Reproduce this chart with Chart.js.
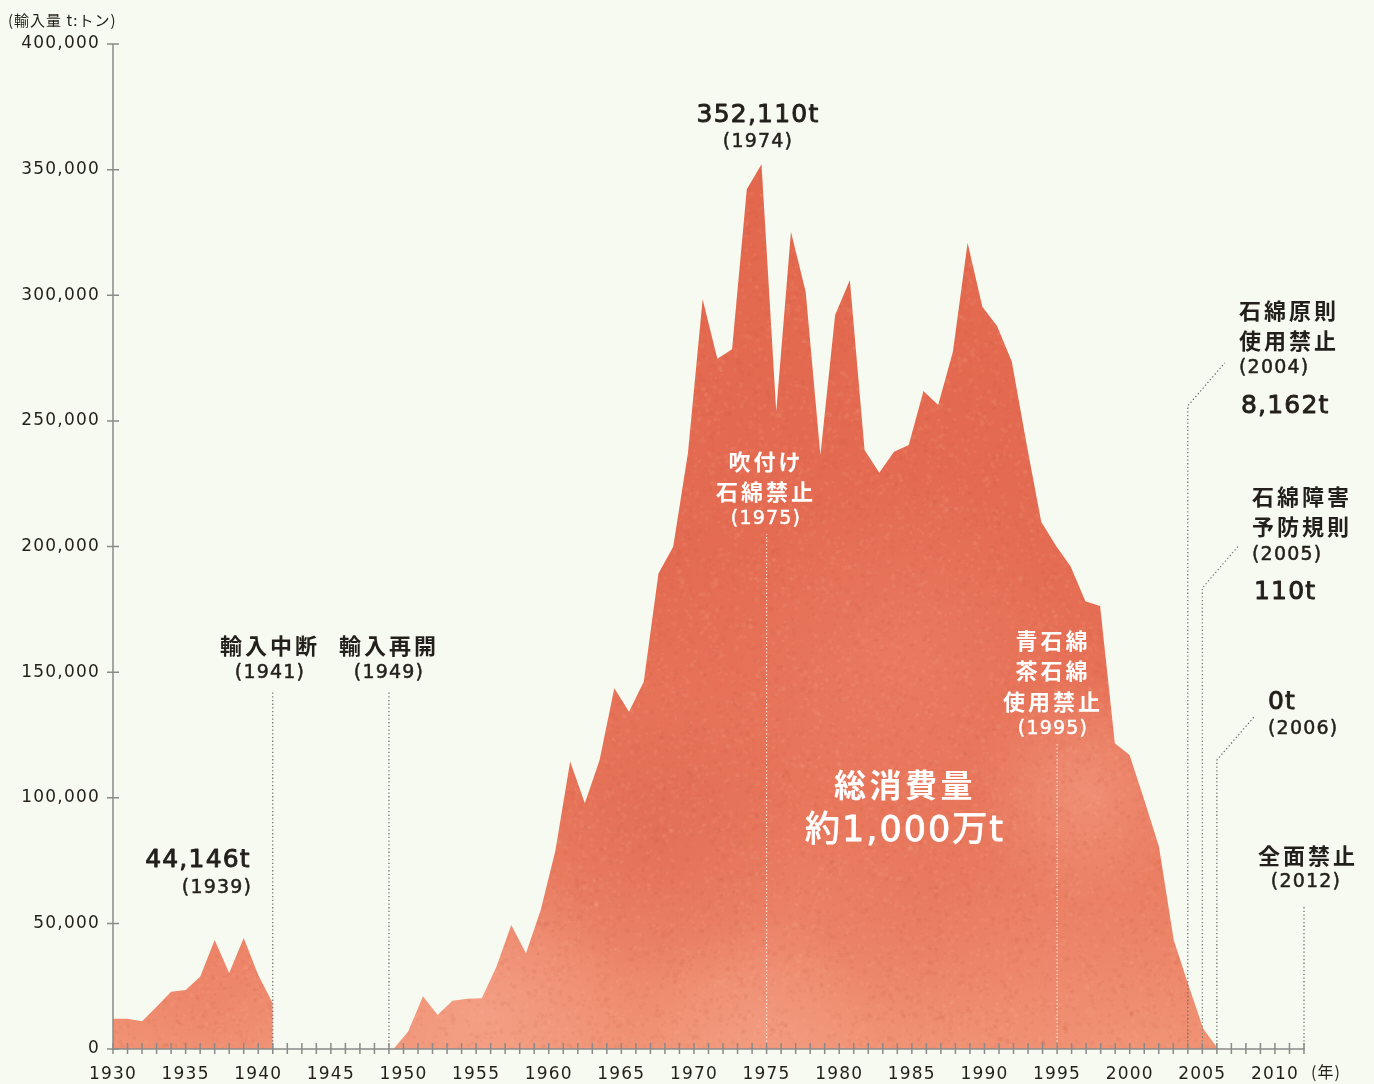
<!DOCTYPE html>
<html lang="ja">
<head>
<meta charset="utf-8">
<title>石綿の輸入量の推移</title>
<script src="https://cdn.jsdelivr.net/npm/chart.js@4.4.1/dist/chart.umd.min.js"></script>
<style>
  html, body { margin: 0; padding: 0; background: #f7faf0; }
  #importChart { display: block; }
</style>
</head>
<body>
<canvas id="importChart" width="1374" height="1084"></canvas>
<script>
// 戦前の輸入量（1941年に輸入中断）
const prewarYears = [1930, 1931, 1932, 1933, 1934, 1935, 1936, 1937, 1938, 1939, 1940, 1941];
const prewarTons = [12000, 12000, 11000, 16800, 22800, 23500, 28800, 43400, 30200, 44146, 29500, 18200];

// 戦後の輸入量（1949年に輸入再開）
const postwarYears = [
  1949, 1950, 1951, 1952, 1953, 1954, 1955, 1956, 1957, 1958,
  1959, 1960, 1961, 1962, 1963, 1964, 1965, 1966, 1967, 1968,
  1969, 1970, 1971, 1972, 1973, 1974, 1975, 1976, 1977, 1978,
  1979, 1980, 1981, 1982, 1983, 1984, 1985, 1986, 1987, 1988,
  1989, 1990, 1991, 1992, 1993, 1994, 1995, 1996, 1997, 1998,
  1999, 2000, 2001, 2002, 2003, 2004, 2005, 2006
];
const postwarTons = [
  0, 7000, 21000, 13500, 19200, 20000, 20200, 32800, 49400, 38100,
  55300, 79000, 114400, 97800, 115000, 143600, 134200, 146200, 189300, 199900,
  237100, 298400, 274700, 278500, 342200, 352110, 253700, 325300, 301400, 236400,
  292100, 306100, 238400, 229400, 237700, 240400, 261900, 256300, 277500, 320900,
  295400, 287800, 273600, 241000, 209900, 200300, 192000, 178200, 176300, 121700,
  117000, 99100, 80500, 43400, 25500, 8162, 110, 0
];

const yTickValues = [0, 50000, 100000, 150000, 200000, 250000, 300000, 350000, 400000];
const xLabelYears = [1930, 1935, 1940, 1945, 1950, 1955, 1960, 1965, 1970, 1975, 1980, 1985, 1990, 1995, 2000, 2005, 2010];

const ink = "#231f1c";
const axisGray = "#8a8a8a";
const numFont = "'DejaVu Sans', 'Noto Sans CJK JP', sans-serif";
const jpFont = "'Noto Sans CJK JP', 'DejaVu Sans', sans-serif";

// 水彩風の塗り
function makeWash(w, h) {
  const c = document.createElement("canvas");
  c.width = w;
  c.height = h;
  const g = c.getContext("2d");
  const lin = g.createLinearGradient(0, 150, 0, 1049);
  lin.addColorStop(0, "#e2674d");
  lin.addColorStop(0.45, "#e46c52");
  lin.addColorStop(0.72, "#e8765b");
  lin.addColorStop(0.88, "#ec8468");
  lin.addColorStop(1, "#f09375");
  g.fillStyle = lin;
  g.fillRect(0, 0, w, h);

  const blots = [
    [480, 1010, 150, "rgba(247,172,148,0.55)"],
    [1085, 790, 115, "rgba(246,168,143,0.5)"],
    [760, 1035, 120, "rgba(247,172,148,0.35)"],
    [900, 650, 170, "rgba(240,142,116,0.3)"],
    [660, 840, 150, "rgba(210,90,66,0.3)"],
    [930, 900, 140, "rgba(222,104,80,0.25)"],
    [610, 560, 120, "rgba(214,95,72,0.2)"],
    [1010, 990, 120, "rgba(240,135,110,0.3)"],
    [200, 1000, 90, "rgba(236,120,96,0.3)"],
  ];
  blots.forEach(([x, y, r, col]) => {
    const rg = g.createRadialGradient(x, y, 0, x, y, r);
    rg.addColorStop(0, col);
    rg.addColorStop(1, col.replace(/[\d.]+\)$/, "0)"));
    g.fillStyle = rg;
    g.fillRect(x - r, y - r, r * 2, r * 2);
  });

  // 紙目のざらつき
  let s = 12345;
  const rnd = () => (s = (s * 16807) % 2147483647) / 2147483647;
  for (let i = 0; i < 40000; i++) {
    const x = rnd() * w;
    const y = 100 + rnd() * (h - 100);
    const dark = rnd() < 0.5;
    g.fillStyle = dark ? "rgba(205,85,62,0.09)" : "rgba(250,185,160,0.09)";
    const sz = 1.5 + rnd() * 3;
    g.fillRect(x, y, sz, sz);
  }
  return g.createPattern(c, "no-repeat");
}

const wash = makeWash(1374, 1084);

// 軸・目盛り・注記
const decorPlugin = {
  id: "decor",
  beforeDraw(chart) {
    chart.ctx.letterSpacing = "1.2px";
  },
  afterDatasetsDraw(chart) {
    const { ctx, chartArea } = chart;
    const x = chart.scales.x;
    const y = chart.scales.y;
    ctx.save();
    ctx.letterSpacing = "0px";

    // 補助線（点線）
    const leaders = [
      { year: 1941, top: 142000, color: "#666" },
      { year: 1949, top: 142000, color: "#666" },
      { year: 1975, top: 205000, color: "rgba(255,255,255,0.85)" },
      { year: 1995, top: 121500, color: "rgba(255,255,255,0.85)" },
      { year: 2004, top: 256000, color: "#666", elbow: true },
      { year: 2005, top: 183500, color: "#777", elbow: true },
      { year: 2006, top: 115000, color: "#666", elbow: true },
      { year: 2012, top: 56500, color: "#666" },
    ];
    ctx.lineWidth = 1.2;
    ctx.setLineDash([1.3, 2.4]);
    leaders.forEach((l) => {
      const px = x.getPixelForValue(l.year);
      const py = y.getPixelForValue(l.top);
      ctx.strokeStyle = l.color;
      ctx.beginPath();
      ctx.moveTo(px, chartArea.bottom);
      ctx.lineTo(px, py);
      if (l.elbow) ctx.lineTo(px + 37, py - 43);
      ctx.stroke();
    });
    ctx.setLineDash([]);

    // 軸線
    ctx.strokeStyle = axisGray;
    ctx.lineWidth = 1.5;
    ctx.beginPath();
    ctx.moveTo(chartArea.left, chartArea.top);
    ctx.lineTo(chartArea.left, chartArea.bottom);
    ctx.lineTo(chartArea.right, chartArea.bottom);
    ctx.stroke();
    ctx.beginPath();
    yTickValues.forEach((v) => {
      const py = y.getPixelForValue(v);
      ctx.moveTo(chartArea.left - 6, py);
      ctx.lineTo(chartArea.left + 6, py);
    });
    for (let yr = 1930; yr <= 2012; yr++) {
      const px = x.getPixelForValue(yr);
      ctx.moveTo(px, chartArea.bottom - 6);
      ctx.lineTo(px, chartArea.bottom + 5);
    }
    ctx.stroke();

    // 文字
    const texts = [
      ["(輸入量 t:トン)", 8, 20, 15, "normal", ink, "left", 1, jpFont],
      ["352,110t", 758, 115, 25, "normal", ink, "center", 1.2, numFont],
      ["(1974)", 758, 142, 19, "normal", ink, "center", 1.2, numFont],
      ["44,146t", 198, 860, 25, "normal", ink, "center", 1.2, numFont],
      ["(1939)", 217, 888, 19, "normal", ink, "center", 1.2, numFont],
      ["輸入中断", 270, 646, 22, "bold", ink, "center", 3, jpFont],
      ["(1941)", 270, 673, 19, "normal", ink, "center", 1.2, numFont],
      ["輸入再開", 389, 646, 22, "bold", ink, "center", 3, jpFont],
      ["(1949)", 389, 673, 19, "normal", ink, "center", 1.2, numFont],
      ["吹付け", 766, 462, 22, "bold", "#fff", "center", 3, jpFont],
      ["石綿禁止", 766, 492, 22, "bold", "#fff", "center", 3, jpFont],
      ["(1975)", 766, 519, 19, "normal", "#fff", "center", 1.2, numFont],
      ["青石綿", 1053, 641, 22, "bold", "#fff", "center", 3, jpFont],
      ["茶石綿", 1053, 671, 22, "bold", "#fff", "center", 3, jpFont],
      ["使用禁止", 1053, 702, 22, "bold", "#fff", "center", 3, jpFont],
      ["(1995)", 1053, 729, 19, "normal", "#fff", "center", 1.2, numFont],
      ["総消費量", 905, 785, 32, "bold", "#fff", "center", 3.5, jpFont],
      ["約1,000万t", 905, 832, 35, "normal", "#fff", "center", 2, numFont],
      ["石綿原則", 1239, 311, 22, "bold", ink, "left", 3, jpFont],
      ["使用禁止", 1239, 341, 22, "bold", ink, "left", 3, jpFont],
      ["(2004)", 1239, 368, 19, "normal", ink, "left", 1.2, numFont],
      ["8,162t", 1241, 406, 25, "normal", ink, "left", 1.2, numFont],
      ["石綿障害", 1252, 497, 22, "bold", ink, "left", 3, jpFont],
      ["予防規則", 1252, 527, 22, "bold", ink, "left", 3, jpFont],
      ["(2005)", 1252, 555, 19, "normal", ink, "left", 1.2, numFont],
      ["110t", 1254, 592, 25, "normal", ink, "left", 1.2, numFont],
      ["0t", 1268, 702, 25, "normal", ink, "left", 1.2, numFont],
      ["(2006)", 1268, 729, 19, "normal", ink, "left", 1.2, numFont],
      ["全面禁止", 1308, 856, 22, "bold", ink, "center", 3, jpFont],
      ["(2012)", 1306, 882, 19, "normal", ink, "center", 1.2, numFont],
      ["(年)", 1311, 1072, 16, "normal", ink, "left", 1, jpFont],
    ];
    ctx.textBaseline = "middle";
    ctx.lineJoin = "round";
    texts.forEach(([str, tx, ty, size, weight, color, align, spacing, family]) => {
      ctx.font = `${weight} ${size}px ${family}`;
      ctx.fillStyle = color;
      ctx.textAlign = align;
      ctx.letterSpacing = spacing + "px";
      ctx.fillText(str, tx, ty);
      // 数値は少し太めに
      if (family === numFont && size >= 19) {
        ctx.strokeStyle = color;
        ctx.lineWidth = size >= 25 ? 0.9 : 0.5;
        ctx.strokeText(str, tx, ty);
      }
    });
    ctx.restore();
  },
};

const ctx = document.getElementById("importChart").getContext("2d");
new Chart(ctx, {
  type: "line",
  data: {
    datasets: [
      {
        label: "戦前",
        data: prewarYears.map((yr, i) => ({ x: yr, y: prewarTons[i] })).concat([{ x: 1941, y: 0 }]),
        xAxisID: "x",
        yAxisID: "y",
        fill: "origin",
        backgroundColor: wash,
        borderWidth: 0,
        pointRadius: 0,
        tension: 0,
      },
      {
        label: "戦後",
        data: postwarYears.map((yr, i) => ({ x: yr, y: postwarTons[i] })),
        xAxisID: "x2",
        yAxisID: "y",
        fill: "origin",
        backgroundColor: wash,
        borderWidth: 0,
        pointRadius: 0,
        tension: 0,
      },
    ],
  },
  options: {
    responsive: false,
    animation: false,
    events: [],
    layout: { padding: { top: 44, right: 70, bottom: 0, left: 0 } },
    plugins: { legend: { display: false }, tooltip: { enabled: false } },
    scales: {
      x: {
        type: "linear",
        min: 1930,
        max: 2012,
        border: { display: false },
        grid: { display: false, drawTicks: false },
        ticks: {
          stepSize: 1,
          autoSkip: false,
          maxRotation: 0,
          padding: 15,
          color: ink,
          font: { family: numFont, size: 17 },
          callback: (v) => (xLabelYears.includes(v) ? String(v) : ""),
        },
        afterFit: (scale) => { scale.height = 35; },
      },
      // 原図では戦後の曲線がわずかに横へ伸びて描かれているため、別の横軸に載せる
      x2: {
        type: "linear",
        display: false,
        min: 1929.947,
        max: 2010.85,
      },
      y: {
        min: 0,
        max: 400000,
        border: { display: false },
        grid: { display: false, drawTicks: false },
        ticks: {
          stepSize: 50000,
          padding: 13,
          color: ink,
          font: { family: numFont, size: 17 },
          callback: (v) => v.toLocaleString("en-US"),
        },
        afterFit: (scale) => { scale.width = 113; },
      },
    },
  },
  plugins: [decorPlugin],
});
</script>
</body>
</html>
